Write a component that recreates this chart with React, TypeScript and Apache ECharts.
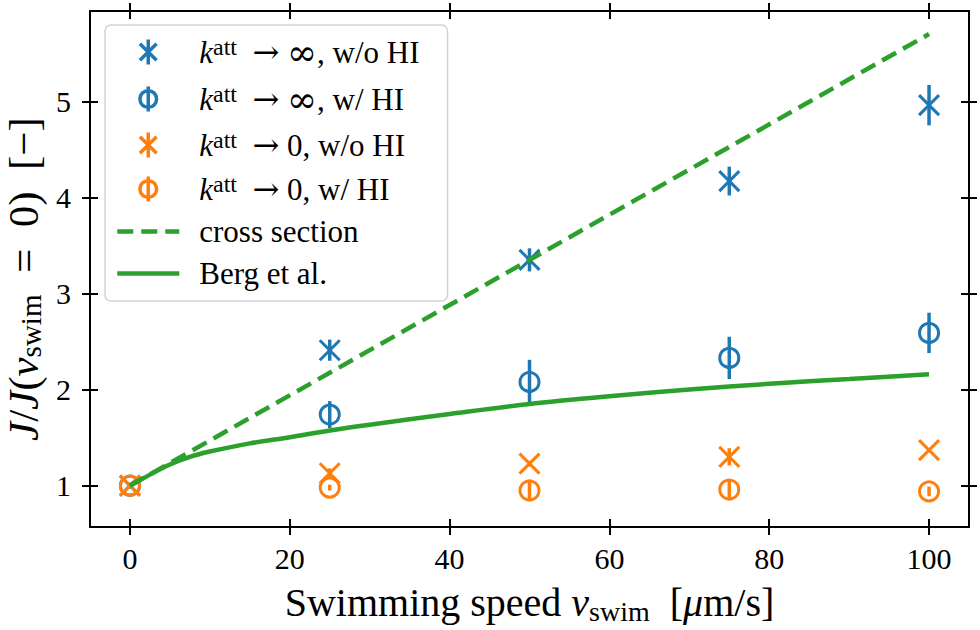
import React, { useEffect, useRef } from 'react';
import * as echarts from 'echarts';

const FONT = "'Liberation Serif', 'DejaVu Serif', serif";
const MATHFONT = "'DejaVu Serif', 'Liberation Serif', serif";
const BLUE = '#1f77b4';
const ORANGE = '#ff7f0e';
const GREEN = '#2ca02c';

// ---- data ----
const speeds = [0, 25, 50, 75, 100];
const infNoHI = [1.0, 2.41, 3.35, 4.17, 4.96];
const infNoHIErr = [0.02, 0.11, 0.12, 0.15, 0.21];
const infHI = [1.0, 1.74, 2.08, 2.33, 2.59];
const infHIErr = [0.03, 0.14, 0.23, 0.22, 0.21];
const zeroNoHI = [1.0, 1.13, 1.23, 1.3, 1.37];
const zeroNoHIErr = [0.02, 0.05, 0.03, 0.09, 0.02];
const zeroHI = [1.0, 0.98, 0.95, 0.96, 0.94];
const zeroHIErr = [0.02, 0.03, 0.11, 0.1, 0.05];
const crossX = [0, 100];
const crossY = [1.0, 5.7];
const bergX = [0, 2.5, 5, 7.5, 10, 15, 20, 25, 30, 40, 50, 60, 70, 80, 90, 100];
const bergY = [1.0, 1.115, 1.22, 1.3, 1.355, 1.44, 1.505, 1.575, 1.635, 1.745, 1.85, 1.93, 2.0, 2.06, 2.11, 2.16];
const xTicks = [0, 20, 40, 60, 80, 100];
const yTicks = [1, 2, 3, 4, 5];

const names = [
  'k_inf_noHI',
  'k_inf_HI',
  'k_0_noHI',
  'k_0_HI',
  'cross section',
  'Berg et al.',
];
const labels: Record<string, string> = {
  k_inf_noHI: '{i|k}{sup|att}{n|  }{a|→}{n| }{m|∞}{n|, w/o HI}',
  k_inf_HI: '{i|k}{sup|att}{n|  }{a|→}{n| }{m|∞}{n|, w/ HI}',
  k_0_noHI: '{i|k}{sup|att}{n|  }{a|→}{n| 0, w/o HI}',
  k_0_HI: '{i|k}{sup|att}{n|  }{a|→}{n| 0, w/ HI}',
  'cross section': '{n|cross section}',
  'Berg et al.': '{n|Berg et al.}',
};

const X_PATH = 'path://M0,0L10,10M10,0L0,10';
const AST_PATH = 'path://M0,2.5L10,12.5M10,2.5L0,12.5M5,0L5,15';
const PHI_PATH = 'path://M5,2.5A5,5,0,1,1,5,12.5A5,5,0,1,1,5,2.5ZM5,0L5,15';

const pts = (xs: number[], ys: number[]) => xs.map((x, i) => [x, ys[i]]);
const errPts = (xs: number[], ys: number[], es: number[]) => xs.map((x, i) => [x, ys[i], es[i]]);

function errSeries(ys: number[], es: number[], color: string) {
  return {
    type: 'custom',
    xAxisIndex: 0,
    yAxisIndex: 0,
    silent: true,
    data: errPts(speeds, ys, es),
    renderItem: (params: any, api: any) => {
      const x = api.value(0);
      const y = api.value(1);
      const e = api.value(2);
      const p1 = api.coord([x, y - e]);
      const p2 = api.coord([x, y + e]);
      return {
        type: 'line',
        shape: { x1: p1[0], y1: p1[1], x2: p2[0], y2: p2[1] },
        style: { stroke: color, lineWidth: 3.5 },
      };
    },
    z: 2,
  };
}

const tickStyle = { color: '#000', width: 2 };

function mkX(position: string, showLine: boolean, inside: boolean, label: boolean, extra: any = {}) {
  return {
    type: 'value',
    position,
    min: -5,
    max: 105,
    axisLine: { show: showLine, onZero: false, lineStyle: { color: '#000', width: 2 } },
    axisTick: { show: true, inside, length: 8, lineStyle: tickStyle, customValues: xTicks },
    axisLabel: label
      ? { show: true, customValues: xTicks, fontSize: 30, fontFamily: FONT, color: '#000', margin: 16 }
      : { show: false },
    splitLine: { show: false },
    ...extra,
  };
}
function mkY(position: string, showLine: boolean, inside: boolean, label: boolean, extra: any = {}) {
  return {
    type: 'value',
    position,
    min: 0.57,
    max: 5.94,
    axisLine: { show: showLine, onZero: false, lineStyle: { color: '#000', width: 2 } },
    axisTick: { show: true, inside, length: 8, lineStyle: tickStyle, customValues: yTicks },
    axisLabel: label
      ? { show: true, customValues: yTicks, fontSize: 30, fontFamily: FONT, color: '#000', margin: 19 }
      : { show: false },
    splitLine: { show: false },
    ...extra,
  };
}

const xNameRich = {
  n: { fontSize: 40, fontFamily: FONT, color: '#000', lineHeight: 46 },
  i: { fontSize: 40, fontFamily: FONT, fontStyle: 'italic', color: '#000', lineHeight: 46 },
  sub: { fontSize: 28, fontFamily: FONT, color: '#000', lineHeight: 28, verticalAlign: 'bottom' },
};
const yNameRich = {
  n: { fontSize: 43, fontFamily: FONT, color: '#000', lineHeight: 44 },
  i: { fontSize: 43, fontFamily: FONT, fontStyle: 'italic', color: '#000', lineHeight: 44 },
  sub: { fontSize: 29, fontFamily: FONT, color: '#000', lineHeight: 29, verticalAlign: 'bottom' },
};

const legendRich = {
  i: { fontSize: 31, fontFamily: FONT, fontStyle: 'italic', color: '#000', lineHeight: 34 },
  sup: { fontSize: 24, fontFamily: FONT, color: '#000', lineHeight: 22, verticalAlign: 'top' },
  n: { fontSize: 31, fontFamily: FONT, color: '#000', lineHeight: 34 },
  a: { fontSize: 32, fontFamily: MATHFONT, color: '#000', lineHeight: 34 },
  m: { fontSize: 36, fontFamily: MATHFONT, color: '#000', lineHeight: 34 },
};

const markerLegendStyle = (c: string) => ({
  color: 'rgba(0,0,0,0)',
  borderColor: c,
  borderWidth: 3.5,
  opacity: 1,
});
const hiddenSymbol = { color: 'rgba(0,0,0,0)', borderColor: 'rgba(0,0,0,0)', borderWidth: 0 };

const option: any = {
  animation: false,
  backgroundColor: '#fff',
  grid: { left: 90, right: 11, top: 11, bottom: 103, containLabel: false, outerBoundsMode: 'none' },
  xAxis: [
    mkX('bottom', true, false, true, {
      name: '{n|Swimming speed }{i|v}{sub|swim}{n|  [}{i|μ}{n|m/s]}',
      nameLocation: 'middle',
      nameGap: 52,
      nameTextStyle: { rich: xNameRich },
    }),
    mkX('bottom', false, true, false),
    mkX('top', true, true, false),
    mkX('top', false, false, false),
  ],
  yAxis: [
    mkY('left', true, false, true, {
      name: '{i|J}{n|/}{i|J}{n|(}{i|v}{sub|swim}{n|  =  0)  [−]}',
      nameLocation: 'middle',
      nameRotate: 90,
      nameGap: 45,
      nameTextStyle: { rich: yNameRich, padding: [0, 20, 0, 0] },
    }),
    mkY('left', false, true, false),
    mkY('right', true, true, false),
    mkY('right', false, false, false),
  ],
  legend: {
    orient: 'vertical',
    left: 105,
    top: 25,
    padding: [9, 28, 12, 10],
    itemWidth: 62,
    itemHeight: 25,
    itemGap: 11,
    backgroundColor: 'rgba(255,255,255,0.85)',
    borderColor: '#d4d4d4',
    borderWidth: 1.5,
    borderRadius: 6,
    selectedMode: false,
    formatter: (name: string) => labels[name],
    textStyle: {
      padding: [0, 0, 0, 15],
      rich: legendRich,
    },
    data: [
      { name: names[0], icon: AST_PATH, itemStyle: markerLegendStyle(BLUE) },
      { name: names[1], icon: PHI_PATH, itemStyle: markerLegendStyle(BLUE) },
      { name: names[2], icon: AST_PATH, itemStyle: markerLegendStyle(ORANGE) },
      { name: names[3], icon: PHI_PATH, itemStyle: markerLegendStyle(ORANGE) },
      {
        name: names[4],
        itemStyle: hiddenSymbol,
        lineStyle: { color: GREEN, width: 4.5, type: [16, 8], opacity: 1 },
      },
      {
        name: names[5],
        itemStyle: hiddenSymbol,
        lineStyle: { color: GREEN, width: 4.5, type: 'solid', opacity: 1 },
      },
    ],
  },
  series: [
    errSeries(infNoHI, infNoHIErr, BLUE),
    errSeries(infHI, infHIErr, BLUE),
    errSeries(zeroNoHI, zeroNoHIErr, ORANGE),
    errSeries(zeroHI, zeroHIErr, ORANGE),
    {
      name: names[0],
      type: 'scatter',
      data: pts(speeds, infNoHI),
      symbol: X_PATH,
      symbolSize: 20,
      itemStyle: { color: 'rgba(0,0,0,0)', borderColor: BLUE, borderWidth: 3, opacity: 1 },
      z: 3,
    },
    {
      name: names[1],
      type: 'scatter',
      data: pts(speeds, infHI),
      symbol: 'circle',
      symbolSize: 19,
      itemStyle: { color: 'rgba(0,0,0,0)', borderColor: BLUE, borderWidth: 3, opacity: 1 },
      z: 3,
    },
    {
      name: names[2],
      type: 'scatter',
      data: pts(speeds, zeroNoHI),
      symbol: X_PATH,
      symbolSize: 20,
      itemStyle: { color: 'rgba(0,0,0,0)', borderColor: ORANGE, borderWidth: 3, opacity: 1 },
      z: 3,
    },
    {
      name: names[3],
      type: 'scatter',
      data: pts(speeds, zeroHI),
      symbol: 'circle',
      symbolSize: 19,
      itemStyle: { color: 'rgba(0,0,0,0)', borderColor: ORANGE, borderWidth: 3, opacity: 1 },
      z: 3,
    },
    {
      name: names[4],
      type: 'line',
      data: pts(crossX, crossY),
      symbol: 'none',
      lineStyle: { color: GREEN, width: 4.5, type: [16, 8] },
      itemStyle: { color: GREEN },
      z: 4,
    },
    {
      name: names[5],
      type: 'line',
      data: pts(bergX, bergY),
      symbol: 'none',
      smooth: 0.3,
      lineStyle: { color: GREEN, width: 4.5 },
      itemStyle: { color: GREEN },
      z: 4,
    },
  ],
};

export default function App() {
  const ref = useRef<HTMLDivElement>(null);
  useEffect(() => {
    const chart = echarts.init(ref.current!, null, { renderer: 'svg' });
    chart.setOption(option);
    return () => chart.dispose();
  }, []);
  return (
    <div
      ref={ref}
      style={{ position: 'fixed', left: 0, top: 0, width: 980, height: 630, background: '#fff' }}
    />
  );
}
